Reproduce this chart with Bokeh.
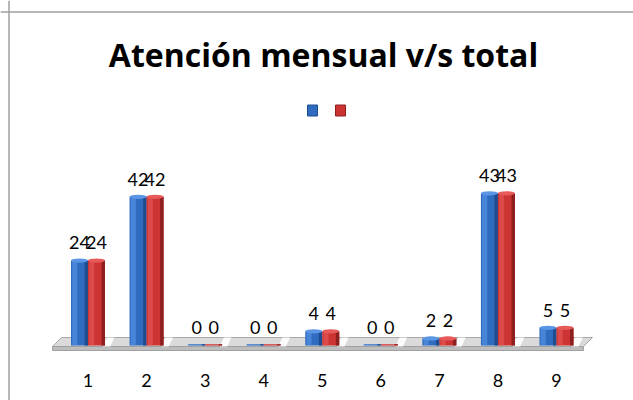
from bokeh.plotting import figure
from bokeh.models import Range1d, Label, Span
from bokeh.core.properties import value
from bokeh.embed import file_html
from bokeh.resources import INLINE

categories = ["1", "2", "3", "4", "5", "6", "7", "8", "9"]
mensual = [24, 42, 0, 0, 4, 0, 2, 43, 5]
total = [24, 42, 0, 0, 4, 0, 2, 43, 5]
title_text = "Atención mensual v/s total"

W, H = 633, 400
px_per_cat = 58.56
px_per_unit = 3.54
cx1 = 87.5      # canvas x of category 1
base_y = 345    # canvas y of value 0

x0 = 1 - cx1 / px_per_cat
x1 = x0 + W / px_per_cat
y_top = base_y / px_per_unit
y_bot = -(H - base_y) / px_per_unit

def dx(sx):
    return 1 + (sx - cx1) / px_per_cat

def dy(sy):
    return (base_y - sy) / px_per_unit

p = figure(width=W, height=H, output_backend="svg", toolbar_location=None,
           x_range=Range1d(x0, x1), y_range=Range1d(y_bot, y_top),
           min_border_left=0, min_border_right=0, min_border_bottom=0,
           min_border_top=0)
p.axis.visible = False
p.grid.visible = False
p.outline_line_color = None
p.background_fill_color = "white"
p.border_fill_color = "white"

# chart border (left and top visible)
p.add_layout(Span(location=dx(8.5), dimension="height", line_color="#A0A0A0", line_width=1.5))
p.add_layout(Span(location=dy(11.5), dimension="width", line_color="#A0A0A0", line_width=1.5))

xs = [i + 1 for i in range(len(categories))]
bw = 17 / px_per_cat
off = 8.5 / px_per_cat

# floor slab
fl_l, fl_r = dx(52), dx(592)
sk = 9 / px_per_cat
p.patch([fl_l + sk, fl_r, fl_r - sk, fl_l], [dy(337), dy(337), dy(346), dy(346)],
        fill_color="#DADADA", line_color="#A8A8A8", line_width=1)
p.patch([fl_l, fl_r - sk, fl_r - sk, fl_l], [dy(346), dy(346), dy(350), dy(350)],
        fill_color="#BDBDBD", line_color="#A0A0A0", line_width=1)
for i in range(len(categories) + 1):
    cx = 0.5 + i
    p.patch([cx - 0.18, cx - 0.05, cx - 0.12, cx - 0.25],
            [dy(337), dy(337), dy(346), dy(346)],
            fill_color="white", line_color=None, fill_alpha=0.9)

def draw_series(vals, d, face, light, dark):
    xc = [x + d for x in xs]
    tops = [max(v, 0.35) for v in vals]
    p.vbar(x=xc, top=tops, bottom=0, width=bw, fill_color=face, line_color=None)
    p.vbar(x=[x - bw * 0.28 for x in xc], top=tops, bottom=0, width=bw * 0.3,
           fill_color=light, line_color=None, fill_alpha=0.6)
    p.vbar(x=[x + bw * 0.4 for x in xc], top=tops, bottom=0, width=bw * 0.2,
           fill_color=dark, line_color=None)
    p.ellipse(x=xc, y=tops, width=bw, height=[1.2 if v > 0 else 0.0 for v in vals],
              fill_color=light, line_color=None)
    p.text(x=xc, y=[v + 5.0 for v in vals], text=[str(v) for v in vals],
           text_align="center", text_baseline="middle",
           text_font=value("Lato"), text_font_size="18px", text_color="black")

draw_series(mensual, -off, "#2F6CC0", "#5A95E6", "#1E4C8C")
draw_series(total, off, "#CC3333", "#E65A5A", "#8E1F1F")

# category labels
p.text(x=xs, y=[dy(380)] * len(xs), text=categories,
       text_align="center", text_baseline="middle",
       text_font=value("Lato"), text_font_size="18px", text_color="black")

# legend markers (no labels)
p.rect(x=[dx(312), dx(340)], y=[dy(110)] * 2, width=10 / px_per_cat, height=11 / px_per_unit,
       fill_color=["#2F6CC0", "#CC3333"], line_color=["#1E4C8C", "#8E1F1F"])

# title
p.add_layout(Label(x=dx(323), y=dy(54), text=title_text, text_align="center",
                   text_baseline="middle", text_font="Open Sans", text_font_style="bold",
                   text_font_size="32px", text_color="black"))

open("out.html", "w").write(file_html(p, INLINE))
